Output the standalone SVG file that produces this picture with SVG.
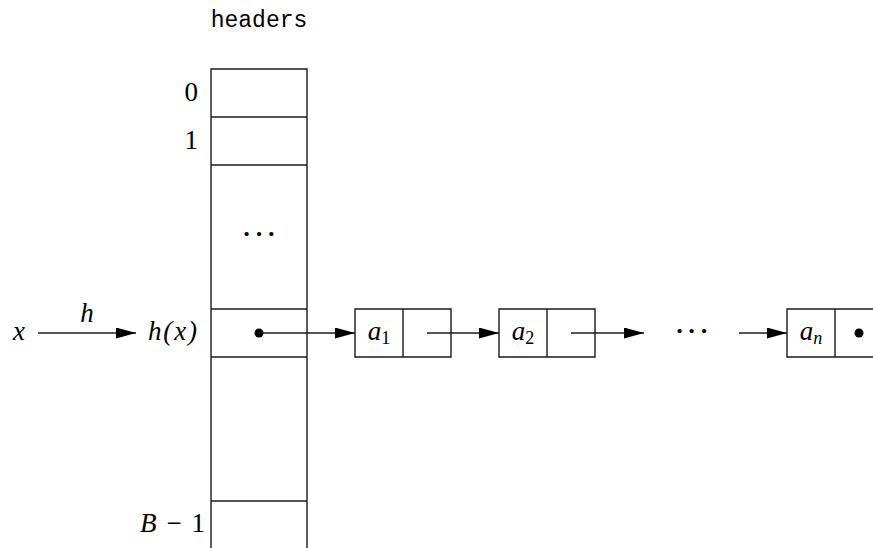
<svg xmlns="http://www.w3.org/2000/svg" width="873" height="548" viewBox="0 0 873 548">
<style>
.ln{stroke:#1a1a1a;stroke-width:1.4;fill:none}
.m{font-family:"Liberation Serif",serif;font-style:italic;font-size:27px;fill:#000}
.r{font-family:"Liberation Serif",serif;font-size:27px;fill:#000}
.sub{font-size:18px}
.up{font-style:normal}
.tt{font-family:"Liberation Mono",monospace;font-size:23px;fill:#000}
.dots{font-family:"Liberation Serif",serif;font-size:26px;font-weight:bold;fill:#000}
</style>
<defs>
<marker id="arr" viewBox="0 0 20 11" refX="20" refY="5.5" markerWidth="20" markerHeight="11" markerUnits="userSpaceOnUse" orient="auto">
<path d="M0,0 L20,5.5 L0,11 z" fill="#000"/>
</marker>
</defs>
<rect width="873" height="548" fill="#fff"/>
<g id="headers">
<text class="tt" x="259" y="27" text-anchor="middle">headers</text>
<path class="ln" d="M211,548 V69 H307 V548 M211,117 H307 M211,165 H307 M211,309 H307 M211,357 H307 M211,501 H307"/>
<text class="r" x="198" y="101" text-anchor="end">0</text>
<text class="r" x="198" y="149" text-anchor="end">1</text>
<text class="dots" x="246.7 259 271.3" y="242" text-anchor="middle">···</text>
<text class="m" x="148" y="340" textLength="49" lengthAdjust="spacing">h(x)</text>
<text class="m" x="140" y="532" textLength="65" lengthAdjust="spacing">B<tspan class="up"> − 1</tspan></text>
<circle cx="259" cy="333" r="4.5" fill="#000"/>
</g>
<g id="x">
<text class="m" x="19" y="340" text-anchor="middle">x</text>
</g>
<g id="node1">
<path class="ln" d="M355,309 H451 V357 H355 Z M403,309 V357"/>
<text class="m" x="379" y="340" text-anchor="middle">a<tspan class="sub up" dy="4">1</tspan></text>
</g>
<g id="node2">
<path class="ln" d="M499,309 H595 V357 H499 Z M547,309 V357"/>
<text class="m" x="523" y="340" text-anchor="middle">a<tspan class="sub up" dy="4">2</tspan></text>
</g>
<g id="ellipsis">
<text class="dots" x="679.5 691.7 704" y="339" text-anchor="middle">···</text>
</g>
<g id="noden">
<path class="ln" d="M873,309 H787 V357 H873 M835,309 V357"/>
<text class="m" x="811" y="340" text-anchor="middle">a<tspan class="sub" dy="4">n</tspan></text>
<circle cx="859" cy="333" r="4.5" fill="#000"/>
</g>
<g id="connectors">
<line class="ln" x1="38" y1="333" x2="136" y2="333" marker-end="url(#arr)"/>
<text class="m" x="87" y="322" text-anchor="middle">h</text>
<line class="ln" x1="259" y1="333" x2="355" y2="333" marker-end="url(#arr)"/>
<line class="ln" x1="427" y1="333" x2="499" y2="333" marker-end="url(#arr)"/>
<line class="ln" x1="571" y1="333" x2="644" y2="333" marker-end="url(#arr)"/>
<line class="ln" x1="739" y1="333" x2="787" y2="333" marker-end="url(#arr)"/>
</g>
</svg>
